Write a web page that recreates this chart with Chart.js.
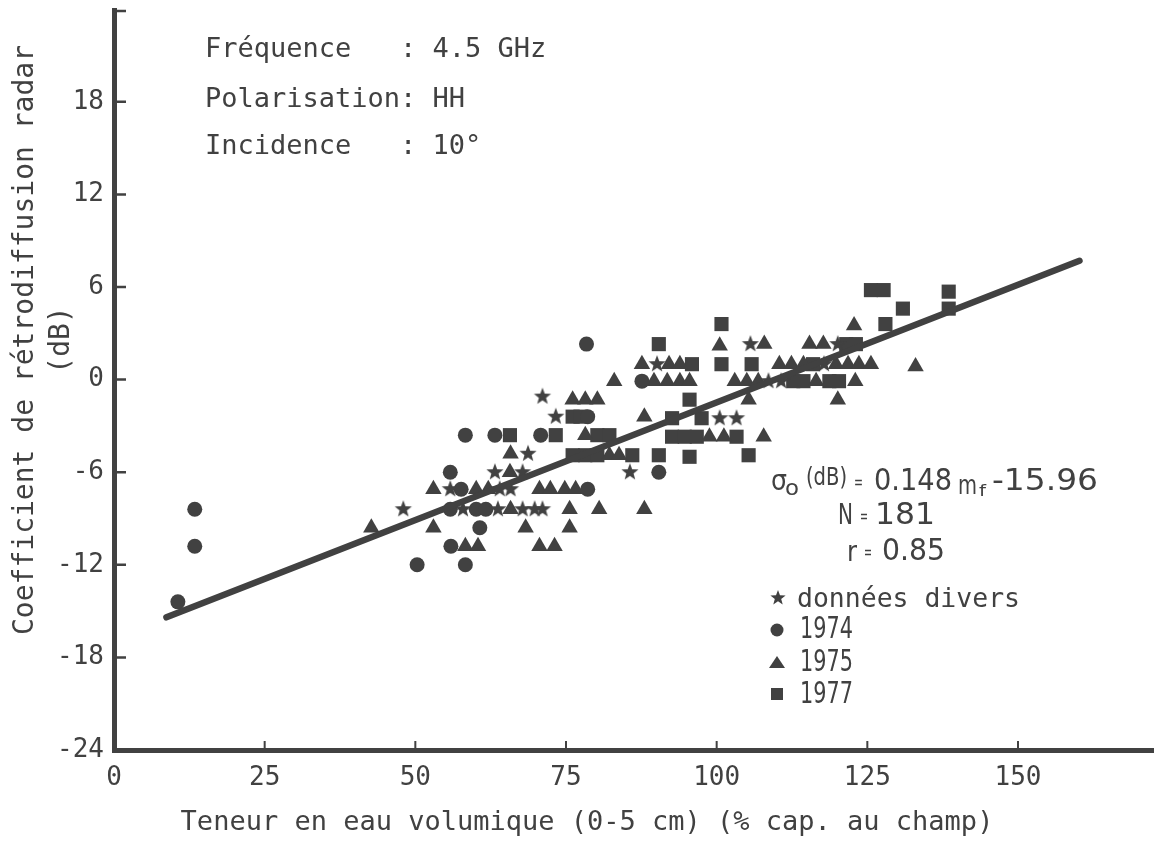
<!DOCTYPE html>
<html>
<head>
<meta charset="utf-8">
<script src="https://cdn.jsdelivr.net/npm/chart.js@4.4.0/dist/chart.umd.min.js"></script>
<style>
  html, body { margin: 0; padding: 0; background: #fff; }
</style>
</head>
<body>
<canvas id="chart" width="1163" height="843"></canvas>
<script>
// values
const xTicks = [0, 25, 50, 75, 100, 125, 150];
const yTicks = [-24, -18, -12, -6, 0, 6, 12, 18];

const divers = [[71.1,-1.1],[73.3,-2.4],[68.7,-4.8],[63.2,-6.0],[67.8,-6.0],[85.6,-6.0],[55.8,-7.1],[64.0,-7.1],
  [65.8,-7.1],[48.0,-8.4],[57.9,-8.4],[63.7,-8.4],[67.8,-8.4],[69.8,-8.4],[71.1,-8.4],[90.1,1.0],[105.6,2.3],
  [100.5,-2.5],[103.3,-2.5],[120.1,2.3],[117.8,1.0],[108.6,-0.1],[110.7,-0.1]];

const y1974 = [[10.6,-14.4],[13.4,-8.4],[13.4,-10.8],[50.3,-12.0],[58.3,-12.0],[55.9,-10.8],[60.7,-9.6],[55.8,-6.0],
  [90.4,-6.0],[58.3,-3.6],[63.2,-3.6],[70.8,-3.6],[78.4,2.3],[78.6,-2.4],[57.6,-7.1],[78.6,-7.1],[55.8,-8.4],
  [60.1,-8.4],[61.7,-8.4],[87.6,-0.1]];

const y1975 = [[42.7,-9.6],[76.1,-1.3],[78.2,-1.3],[80.2,-1.3],[88.0,-2.4],[78.2,-3.6],[65.8,-4.8],[82.2,-4.9],
  [83.8,-4.9],[65.7,-6.0],[53.0,-7.1],[60.1,-7.1],[62.1,-7.1],[70.6,-7.1],[72.4,-7.1],[74.8,-7.1],[76.6,-7.1],
  [65.8,-8.4],[75.6,-8.4],[80.5,-8.4],[88.0,-8.4],[53.0,-9.6],[68.3,-9.6],[75.6,-9.6],[58.3,-10.8],[60.4,-10.8],
  [70.6,-10.8],[73.1,-10.8],[83.0,-0.1],[87.6,1.0],[92.1,1.0],[93.9,1.0],[89.6,-0.1],[91.8,-0.1],[93.9,-0.1],
  [95.5,-0.1],[103.0,-0.1],[105.0,-0.1],[106.9,-0.1],[105.3,-1.3],[100.5,2.2],[98.8,-3.7],[101.2,-3.7],
  [107.8,-3.7],[122.8,3.5],[107.9,2.3],[115.4,2.3],[117.7,2.3],[110.4,1.0],[112.4,1.0],[114.4,1.0],[119.8,1.0],
  [121.8,1.0],[123.6,1.0],[125.6,1.0],[133.0,0.85],[116.5,-0.1],[123.0,-0.1],[120.1,-1.3]];

const y1977 = [[76.1,-2.4],[77.4,-2.4],[65.7,-3.6],[73.3,-3.6],[80.2,-3.6],[82.2,-3.6],[76.1,-4.9],[78.2,-4.9],
  [80.2,-4.9],[86.0,-4.9],[90.4,-4.9],[95.5,-5.0],[105.3,-4.9],[100.8,3.6],[90.4,2.3],[95.9,1.0],[100.8,1.0],
  [105.8,1.0],[95.5,-1.3],[92.6,-2.5],[97.5,-2.5],[92.6,-3.7],[94.7,-3.7],[96.7,-3.7],[103.3,-3.7],[125.6,5.8],
  [127.7,5.8],[138.5,5.7],[130.9,4.6],[138.5,4.6],[128.0,3.6],[121.5,2.3],[123.1,2.3],[116.0,1.0],[112.7,-0.1],
  [114.4,-0.1],[118.7,-0.1],[120.3,-0.1]];

// regression line ends, as drawn
const fitX = [8.7, 160.2];
const fitY = [-15.4, 7.7];

const ink = '#414141';
const mono = '"DejaVu Sans Mono", "Liberation Mono", monospace';
const sans = '"DejaVu Sans", "Liberation Sans", sans-serif';

function makeStar(r) {
  let c = document.createElement('canvas');
  c.width = c.height = Math.ceil(r * 2) + 2;
  let g = c.getContext('2d');
  let cx = c.width / 2, cy = c.height / 2;
  g.beginPath();
  for (let i = 0; i < 10; i++) {
    let rad = i % 2 === 0 ? r : r * 0.42;
    let a = -Math.PI / 2 + i * Math.PI / 5;
    g.lineTo(cx + rad * Math.cos(a), cy + rad * Math.sin(a));
  }
  g.closePath();
  g.fillStyle = ink;
  g.fill();
  return c;
}
const star = makeStar(9);
const starSmall = makeStar(8);

const pts = arr => arr.map(p => ({x: p[0], y: p[1]}));

function txt(ctx, s, x, y, size, opts) {
  opts = opts || {};
  ctx.save();
  ctx.font = size + 'px ' + (opts.fam || mono);
  ctx.fillStyle = ink;
  ctx.textBaseline = 'middle';
  ctx.textAlign = opts.align || 'left';
  ctx.translate(x, y);
  if (opts.rot) ctx.rotate(opts.rot);
  ctx.scale(opts.sx || 1, 1);
  ctx.fillText(s, 0, 0);
  ctx.restore();
}

// squeeze a piece of text so it runs from x0 to x1, like the narrow typeface of the scan
function fit(ctx, s, x0, x1, y, size) {
  ctx.save();
  ctx.font = size + 'px ' + sans;
  let w = ctx.measureText(s).width;
  ctx.restore();
  txt(ctx, s, x0, y, size, {fam: sans, sx: (x1 - x0) / w});
}

const decor = {
  id: 'decor',
  afterDraw(chart) {
    let ctx = chart.ctx, a = chart.chartArea, x = chart.scales.x, y = chart.scales.y;
    ctx.save();
    ctx.strokeStyle = ink;
    ctx.lineWidth = 2.5;
    ctx.beginPath();
    yTicks.slice(1).forEach(v => {
      let py = y.getPixelForValue(v);
      ctx.moveTo(a.left, py); ctx.lineTo(a.left + 12, py);
    });
    ctx.moveTo(a.left, a.top + 1); ctx.lineTo(a.left + 12, a.top + 1);
    ctx.stroke();
    ctx.lineWidth = 2;
    ctx.beginPath();
    xTicks.slice(1).forEach(v => {
      let px = x.getPixelForValue(v);
      ctx.moveTo(px, a.bottom); ctx.lineTo(px, a.bottom - 9);
    });
    ctx.stroke();
    ctx.restore();

    // axis titles
    txt(ctx, 'Coefficient de rétrodiffusion radar', 26, 340, 28, {align: 'center', rot: -Math.PI / 2});
    txt(ctx, '(dB)', 62, 340, 28, {align: 'center', rot: -Math.PI / 2});
    txt(ctx, 'Teneur en eau volumique (0-5 cm) (% cap. au champ)', 587, 823, 27, {align: 'center'});

    // header block
    txt(ctx, 'Fréquence   : 4.5 GHz', 205, 50, 27);
    txt(ctx, 'Polarisation: HH', 205, 100, 27);
    txt(ctx, 'Incidence   : 10°', 205, 147, 27);

    // equation block
    fit(ctx, 'σ', 771, 787, 482, 29);
    fit(ctx, 'o', 785, 799, 489, 22);
    fit(ctx, '(dB)', 806, 847, 479, 24);
    fit(ctx, '=', 854, 863, 483, 18);
    fit(ctx, '0.148', 874, 952, 482, 31);
    fit(ctx, 'm', 958, 977, 487, 26);
    fit(ctx, 'f', 979, 986, 492, 15);
    fit(ctx, '-15.96', 992, 1098, 482, 31);
    fit(ctx, 'N', 838, 853, 516, 29);
    fit(ctx, '=', 860, 868, 517, 18);
    fit(ctx, '181', 875, 935, 516, 31);
    fit(ctx, 'r', 847, 857, 553, 29);
    fit(ctx, '=', 864, 872, 553, 18);
    fit(ctx, '0.85', 882, 945, 552, 31);

    // legend
    ctx.save();
    ctx.fillStyle = ink;
    ctx.drawImage(starSmall, 778 - starSmall.width / 2, 598 - starSmall.height / 2);
    ctx.beginPath(); ctx.arc(777, 630, 6.5, 0, Math.PI * 2); ctx.fill();
    ctx.beginPath(); ctx.moveTo(777, 656); ctx.lineTo(785, 668); ctx.lineTo(769, 668); ctx.closePath(); ctx.fill();
    ctx.fillRect(771, 688, 12, 12);
    ctx.restore();
    txt(ctx, 'données divers', 797, 600, 27, {sx: 0.98});
    fit(ctx, '1974', 800, 853, 630, 31);
    fit(ctx, '1975', 800, 853, 663, 31);
    fit(ctx, '1977', 800, 853, 695, 31);
  }
};

let ctx = document.getElementById('chart').getContext('2d');
let chart = new Chart(ctx, {
  type: 'scatter',
  data: {
    datasets: [
      {label: 'régression', type: 'line', data: fitX.map((v, i) => ({x: v, y: fitY[i]})),
        borderColor: ink, borderWidth: 6.5, borderCapStyle: 'round', pointRadius: 0, showLine: true, order: 0},
      {label: 'données divers', data: pts(divers), pointStyle: star, backgroundColor: ink, order: 1},
      {label: '1974', data: pts(y1974), pointStyle: 'circle', radius: 7.5, backgroundColor: ink, borderWidth: 0, order: 1},
      {label: '1975', data: pts(y1975), pointStyle: 'triangle', radius: 9.5, backgroundColor: ink, borderWidth: 0, order: 1},
      {label: '1977', data: pts(y1977), pointStyle: 'rect', radius: 10, backgroundColor: ink, borderWidth: 0, order: 1}
    ]
  },
  options: {
    responsive: false,
    animation: false,
    events: [],
    layout: {padding: {top: 10, right: 3, left: 0, bottom: 0}},
    plugins: {legend: {display: false}, tooltip: {enabled: false}},
    scales: {
      x: {
        type: 'linear', min: 0, max: 172.4,
        afterBuildTicks: s => { s.ticks = xTicks.map(v => ({value: v})); },
        afterFit: s => { s.height = 93; s.paddingLeft = 0; s.paddingRight = 0; },
        grid: {display: false, drawTicks: false},
        border: {display: true, color: ink, width: 5},
        ticks: {color: ink, font: {family: mono, size: 26}, padding: 13, maxRotation: 0}
      },
      y: {
        type: 'linear', min: -24, max: 23.95,
        afterBuildTicks: s => { s.ticks = yTicks.map(v => ({value: v})); },
        afterFit: s => { s.width = 114; s.paddingTop = 0; s.paddingBottom = 0; },
        grid: {display: false, drawTicks: false},
        border: {display: true, color: ink, width: 5},
        ticks: {color: ink, font: {family: mono, size: 26}, padding: 10}
      }
    }
  },
  plugins: [decor]
});
</script>
</body>
</html>
